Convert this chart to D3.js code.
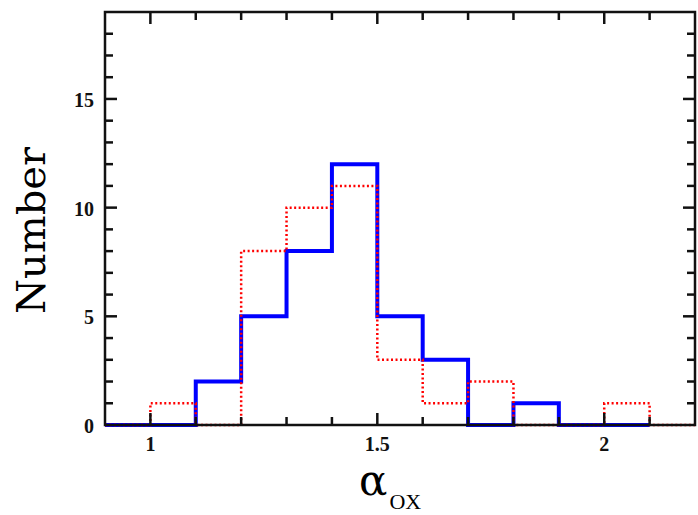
<!DOCTYPE html>
<html><head><meta charset="utf-8">
<script src="https://cdn.jsdelivr.net/npm/d3@7"></script>
<style>body{margin:0;background:#fff}svg{display:block}</style>
</head><body>
<script>
// data
const binEdgesStart = [0.9,1.0,1.1,1.2,1.3,1.4,1.5,1.6,1.7,1.8,1.9,2.0,2.1];
const binWidth = 0.1;
const blueCounts = [0,0,2,5,8,12,5,3,0,1,0,0];
const redCounts  = [0,1,0,8,10,11,3,1,2,0,0,1,0];
const xTickLabels = [1,1.5,2];
const yTickLabels = [0,5,10,15];

const W=698,H=515;
const m={l:105,r:3,t:12,b:90};
const svg=d3.select("body").append("svg").attr("width",W).attr("height",H);
const x=d3.scaleLinear().domain([0.9,2.2]).range([m.l,W-m.r]);
const y=d3.scaleLinear().domain([0,19]).range([H-m.b,m.t]);

function stepPts(counts){
  const pts=[];
  counts.forEach((c,i)=>{const s=binEdgesStart[i];pts.push([s,c]);pts.push([+(s+binWidth).toFixed(2),c]);});
  return pts;
}
const line=d3.line().x(d=>x(d[0])).y(d=>y(d[1]));

svg.append("path").attr("d",line(stepPts(blueCounts))).attr("fill","none")
  .attr("stroke","#0000ff").attr("stroke-width",4).attr("stroke-linejoin","miter");
svg.append("path").attr("d",line(stepPts(redCounts))).attr("fill","none")
  .attr("stroke","#ff0000").attr("stroke-width",2.5).attr("stroke-dasharray","2,2.5");

// frame & ticks
const g=svg.append("g").attr("stroke","#111").attr("fill","none");
const x0=x.range()[0],x1=x.range()[1],y0=y.range()[0],y1=y.range()[1];
const xMinor=d3.range(10,22).map(v=>v/10);
const yMinor=d3.range(1,19);
xMinor.forEach(v=>{
  const major=Math.abs(v*2-Math.round(v*2))<1e-6;
  const L=major?12:8;
  g.append("line").attr("x1",x(v)).attr("x2",x(v)).attr("y1",y0).attr("y2",y0-L).attr("stroke-width",2.5);
  g.append("line").attr("x1",x(v)).attr("x2",x(v)).attr("y1",y1).attr("y2",y1+L).attr("stroke-width",2.5);
});
yMinor.forEach(v=>{
  const major=v%5===0;
  const L=major?12:8;
  g.append("line").attr("y1",y(v)).attr("y2",y(v)).attr("x1",x0).attr("x2",x0+L).attr("stroke-width",2.5);
  g.append("line").attr("y1",y(v)).attr("y2",y(v)).attr("x1",x1).attr("x2",x1-L).attr("stroke-width",2.5);
});
g.append("rect").attr("x",x0).attr("y",y1).attr("width",x1-x0).attr("height",y0-y1).attr("stroke-width",2.5);

// tick labels
svg.selectAll(".xl").data(xTickLabels).enter().append("text")
  .attr("x",d=>x(d)).attr("y",y0+26).attr("text-anchor","middle")
  .attr("font-family","Liberation Serif").attr("font-weight","bold").attr("font-size",20)
  .attr("fill","#111").text(d=>d);
svg.selectAll(".yl").data(yTickLabels).enter().append("text")
  .attr("x",x0-11).attr("y",d=>y(d)+8).attr("text-anchor","end")
  .attr("font-family","Liberation Serif").attr("font-weight","bold").attr("font-size",20)
  .attr("fill","#111").text(d=>d);

// axis titles
svg.append("text").attr("transform",`translate(45,${(y0+y1)/2+12}) rotate(-90)`)
  .attr("text-anchor","middle").attr("font-family","DejaVu Serif").attr("font-size",40)
  .attr("fill","#000").text("Number");
const t=svg.append("text").attr("x",359).attr("y",495).attr("fill","#000");
t.append("tspan").attr("font-family","DejaVu Serif").attr("font-size",42).text("α");
t.append("tspan").attr("font-family","Liberation Serif").attr("font-size",22).attr("dy",14).attr("dx",2).text("OX");
</script>
</body></html>
